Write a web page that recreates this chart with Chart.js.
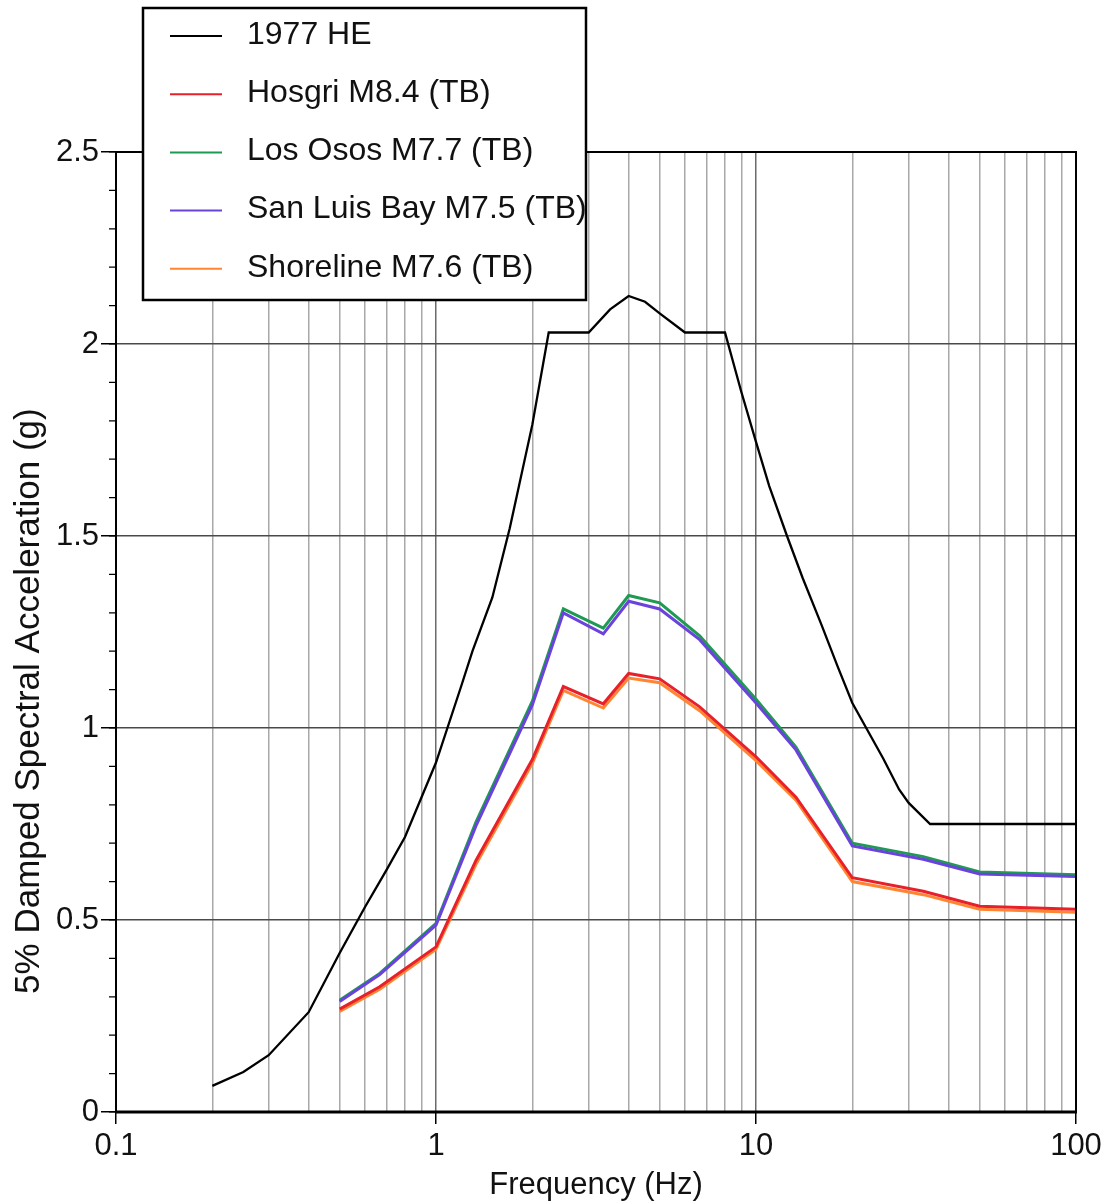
<!DOCTYPE html>
<html>
<head>
<meta charset="utf-8">
<script src="https://cdn.jsdelivr.net/npm/chart.js@4/dist/chart.umd.min.js"></script>
<style>
  body { margin: 0; background: #fff; }
  #wrap { width: 1107px; height: 1204px; }
</style>
</head>
<body>
<div id="wrap"><canvas id="myChart"></canvas></div>
<script>
// 1977 HE spectrum
let freqHE = [0.2, 0.25, 0.3, 0.4, 0.5, 0.6, 0.7, 0.8, 1.0, 1.2, 1.3, 1.5, 1.7, 2.0, 2.25, 3.0, 3.5, 4.0, 4.5, 5.0, 6.0, 8.0, 9.0, 10, 11, 12.5, 14, 16, 18, 20, 25, 28, 30, 35, 100];
let accHE = [0.068, 0.104, 0.148, 0.26, 0.414, 0.534, 0.63, 0.716, 0.91, 1.11, 1.2, 1.34, 1.52, 1.79, 2.03, 2.03, 2.09, 2.125, 2.11, 2.08, 2.03, 2.03, 1.875, 1.745, 1.63, 1.5, 1.39, 1.27, 1.16, 1.065, 0.92, 0.84, 0.805, 0.75, 0.75];

// TB spectra share the same frequencies
let freqTB = [0.5, 0.667, 1.0, 1.333, 2.0, 2.5, 3.333, 4.0, 5.0, 6.667, 10, 13.33, 20, 33.33, 50, 100];
let hosgri = [0.268, 0.326, 0.43, 0.655, 0.918, 1.108, 1.063, 1.142, 1.128, 1.055, 0.925, 0.82, 0.61, 0.575, 0.536, 0.528];
let losOsos = [0.291, 0.361, 0.491, 0.755, 1.07, 1.31, 1.26, 1.345, 1.326, 1.24, 1.075, 0.95, 0.7, 0.665, 0.625, 0.618];
let sanLuisBay = [0.288, 0.358, 0.487, 0.745, 1.06, 1.3, 1.245, 1.33, 1.31, 1.23, 1.065, 0.943, 0.693, 0.658, 0.62, 0.613];
let shoreline = [0.262, 0.32, 0.424, 0.645, 0.908, 1.098, 1.052, 1.13, 1.118, 1.045, 0.915, 0.812, 0.6, 0.566, 0.528, 0.52];

let seriesNames = ["1977 HE", "Hosgri M8.4 (TB)", "Los Osos M7.7 (TB)", "San Luis Bay M7.5 (TB)", "Shoreline M7.6 (TB)"];
let xTickLabels = [0.1, 1, 10, 100];
let yTickLabels = [0, 0.5, 1, 1.5, 2, 2.5];
let yTitle = "5% Damped Spectral Acceleration (g)";

let fontName = "'Liberation Sans', Arial, Helvetica, sans-serif";

function toPoints(xs, ys) {
  return xs.map((x, i) => ({ x: x, y: ys[i] }));
}

function isDecade(v) {
  return xTickLabels.some((d) => Math.abs(d - v) < 1e-9);
}

// draws the plot frame, minor y ticks, y title and the boxed legend
const framePlugin = {
  id: "frame",
  afterDraw(chart) {
    let ctx = chart.ctx;
    let a = chart.chartArea;
    let yScale = chart.scales.y;
    ctx.save();
    ctx.strokeStyle = "#000";
    ctx.lineWidth = 2;
    ctx.strokeRect(a.left, a.top, a.right - a.left, a.bottom - a.top);
    ctx.lineWidth = 3;
    ctx.beginPath();
    ctx.moveTo(a.left - 1, a.bottom);
    ctx.lineTo(a.right + 1, a.bottom);
    ctx.stroke();

    // minor ticks every 0.1 g
    ctx.lineWidth = 1.2;
    ctx.beginPath();
    for (let i = 0; i <= 25; i++) {
      let py = yScale.getPixelForValue(i / 10);
      ctx.moveTo(a.left - 7, py);
      ctx.lineTo(a.left, py);
    }
    ctx.stroke();

    // y title, sits a bit below the plot centre like the original
    ctx.save();
    ctx.translate(29, yScale.getPixelForValue(1.07));
    ctx.rotate(-Math.PI / 2);
    ctx.font = "35px " + fontName;
    ctx.fillStyle = "#111";
    ctx.textAlign = "center";
    ctx.textBaseline = "middle";
    ctx.fillText(yTitle, 0, 0);
    ctx.restore();

    // legend
    let bx = 143, by = 8, bw = 443, bh = 292;
    ctx.fillStyle = "#fff";
    ctx.fillRect(bx, by, bw, bh);
    ctx.lineWidth = 2.5;
    ctx.strokeStyle = "#000";
    ctx.strokeRect(bx, by, bw, bh);
    ctx.font = "32px " + fontName;
    ctx.textBaseline = "middle";
    ctx.textAlign = "left";
    chart.data.datasets.forEach((ds, i) => {
      let ly = 36 + i * 58.2;
      ctx.strokeStyle = ds.borderColor;
      ctx.lineWidth = 2;
      ctx.beginPath();
      ctx.moveTo(170, ly);
      ctx.lineTo(222, ly);
      ctx.stroke();
      ctx.fillStyle = "#111";
      ctx.fillText(ds.label, 247, ly - 1);
    });
    ctx.restore();
  },
};

function makeChart() {
  let ctx = document.getElementById("myChart").getContext("2d");
  return new Chart(ctx, {
    type: "line",
    data: {
      datasets: [
        { label: seriesNames[0], data: toPoints(freqHE, accHE), borderColor: "#000000", borderWidth: 2.3, order: 0 },
        { label: seriesNames[1], data: toPoints(freqTB, hosgri), borderColor: "#e8202a", borderWidth: 3, order: 1 },
        { label: seriesNames[2], data: toPoints(freqTB, losOsos), borderColor: "#1f9a52", borderWidth: 3, order: 3 },
        { label: seriesNames[3], data: toPoints(freqTB, sanLuisBay), borderColor: "#6a42dc", borderWidth: 3, order: 2 },
        { label: seriesNames[4], data: toPoints(freqTB, shoreline), borderColor: "#ff8533", borderWidth: 3, order: 4 },
      ],
    },
    options: {
      responsive: true,
      maintainAspectRatio: false,
      devicePixelRatio: 1,
      animation: false,
      layout: { padding: { left: 0, right: 31, top: 152, bottom: 0 } },
      elements: { point: { radius: 0 }, line: { tension: 0 } },
      plugins: { legend: { display: false }, tooltip: { enabled: false } },
      scales: {
        x: {
          type: "logarithmic",
          min: 0.1,
          max: 100,
          border: { display: false },
          afterBuildTicks: (scale) => {
            let ticks = [];
            for (let k = 0; k < xTickLabels.length - 1; k++) {
              for (let m = 1; m <= 9; m++) ticks.push({ value: m * xTickLabels[k] });
            }
            ticks.push({ value: xTickLabels[xTickLabels.length - 1] });
            scale.ticks = ticks;
          },
          afterFit: (scale) => { scale.height = 92; },
          grid: {
            color: (c) => (c.tick && isDecade(c.tick.value) ? "#6a6a6a" : "#a8a8a8"),
            lineWidth: 1.5,
            tickColor: (c) => (c.tick && isDecade(c.tick.value) ? "#000" : "rgba(0,0,0,0)"),
            tickLength: 12,
          },
          ticks: {
            autoSkip: false,
            maxRotation: 0,
            padding: 4,
            color: "#111",
            font: { family: fontName, size: 31 },
            callback: (v) => (isDecade(v) ? String(v) : ""),
          },
          title: {
            display: true,
            text: "Frequency (Hz)",
            color: "#111",
            font: { family: fontName, size: 31 },
            padding: { top: 0, bottom: 0 },
          },
        },
        y: {
          min: 0,
          max: 2.5,
          border: { display: false },
          afterBuildTicks: (scale) => {
            scale.ticks = yTickLabels.map((v) => ({ value: v }));
          },
          afterFit: (scale) => { scale.width = 116; },
          grid: {
            color: "#4a4a4a",
            lineWidth: 1.5,
            tickColor: "#000",
            tickLength: 15,
          },
          ticks: {
            padding: 2,
            color: "#111",
            font: { family: fontName, size: 31 },
            callback: (v) => String(v),
          },
          title: { display: false },
        },
      },
    },
    plugins: [framePlugin],
  });
}

makeChart();
</script>
</body>
</html>
